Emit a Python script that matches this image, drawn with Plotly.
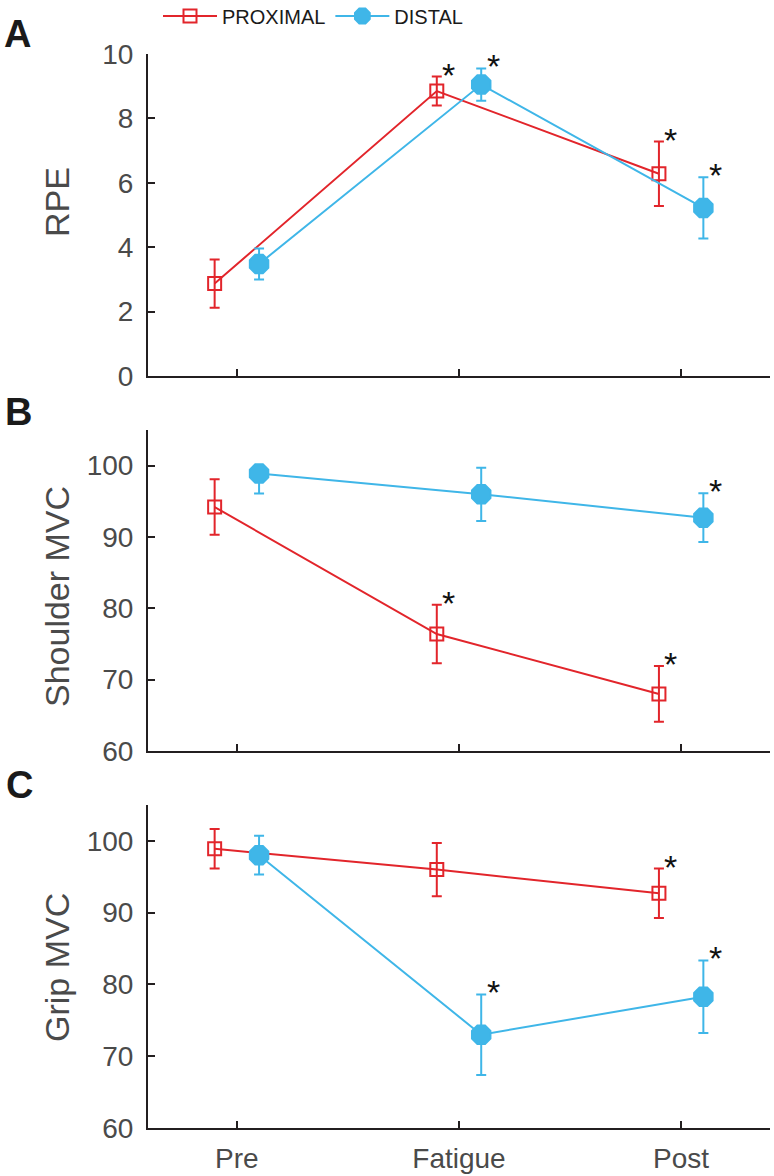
import plotly.graph_objects as go

W, H = 774, 1176
ML, MR, MT, MB = 148, 4, 54, 48
PW, PH = W - ML - MR, H - MT - MB

RED = "#e2252b"
BLUE = "#3fb6e8"
AXIS = "#231f20"
GREY = "#4a4a4a"
FONT = "Liberation Sans, Arial, sans-serif"

categories = ["Pre", "Fatigue", "Post"]
cat_pos = [1, 2, 3]

# panel A - RPE
rpe_prox = [2.87, 8.85, 6.28]
rpe_prox_err = [0.75, 0.45, 1.0]
rpe_prox_sig = [False, True, True]
rpe_dist = [3.48, 9.05, 5.22]
rpe_dist_err = [0.48, 0.5, 0.95]
rpe_dist_sig = [False, True, True]

# panel B - shoulder MVC
shoulder_prox = [94.2, 76.4, 68.0]
shoulder_prox_err = [3.9, 4.1, 3.9]
shoulder_prox_sig = [False, True, True]
shoulder_dist = [98.9, 96.0, 92.7]
shoulder_dist_err_up = [0.0, 3.7, 3.45]
shoulder_dist_err_down = [2.8, 3.75, 3.4]
shoulder_dist_sig = [False, False, True]

# panel C - grip MVC
grip_prox = [98.9, 96.0, 92.7]
grip_prox_err = [2.75, 3.7, 3.45]
grip_prox_sig = [False, False, True]
grip_dist = [98.0, 73.0, 78.3]
grip_dist_err = [2.7, 5.6, 5.05]
grip_dist_sig = [False, True, True]


def px_x(p):
    return (p - ML) / PW


def px_y(p):
    return 1 - (p - MT) / PH


fig = go.Figure()
annotations = []


def add_series(vals, err_up, err_down, sig, color, symbol, size, name, ax, offset, legend):
    xs = [c + offset for c in cat_pos]
    fig.add_trace(go.Scatter(
        x=xs, y=vals, name=name, mode="lines+markers",
        xaxis="x" + ax, yaxis="y" + ax, showlegend=legend, legendgroup=name,
        line=dict(color=color, width=2),
        marker=dict(symbol=symbol, size=size, color=color, line=dict(color=color, width=2)),
        error_y=dict(type="data", array=err_up, arrayminus=err_down, symmetric=False,
                     color=color, thickness=2, width=5),
    ))
    for i, s in enumerate(sig):
        if s:
            annotations.append(dict(
                x=xs[i], y=vals[i] + err_up[i], xref="x" + ax, yref="y" + ax,
                text="*", showarrow=False, xshift=12, yshift=2,
                font=dict(size=34, color="#111111", family=FONT),
            ))


add_series(rpe_prox, rpe_prox_err, rpe_prox_err, rpe_prox_sig, RED, "square-open", 13, "PROXIMAL", "", -0.1, True)
add_series(rpe_dist, rpe_dist_err, rpe_dist_err, rpe_dist_sig, BLUE, "octagon", 20, "DISTAL", "", 0.1, True)
add_series(shoulder_prox, shoulder_prox_err, shoulder_prox_err, shoulder_prox_sig, RED, "square-open", 13, "PROXIMAL", "2", -0.1, False)
add_series(shoulder_dist, shoulder_dist_err_up, shoulder_dist_err_down, shoulder_dist_sig, BLUE, "octagon", 20, "DISTAL", "2", 0.1, False)
add_series(grip_prox, grip_prox_err, grip_prox_err, grip_prox_sig, RED, "square-open", 13, "PROXIMAL", "3", -0.1, False)
add_series(grip_dist, grip_dist_err, grip_dist_err, grip_dist_sig, BLUE, "octagon", 20, "DISTAL", "3", 0.1, False)

xaxis_style = dict(range=[0.6, 3.4], tickvals=cat_pos, ticktext=categories,
                   ticks="inside", ticklen=7, tickwidth=2, tickcolor=AXIS,
                   showline=True, linecolor=AXIS, linewidth=2, showgrid=False, zeroline=False,
                   tickfont=dict(size=28, color=GREY, family=FONT), ticklabelstandoff=4)
yaxis_style = dict(ticks="inside", ticklen=7, tickwidth=2, tickcolor=AXIS,
                   showline=True, linecolor=AXIS, linewidth=2, showgrid=False, zeroline=False,
                   tickfont=dict(size=28, color=GREY, family=FONT), ticklabelstandoff=7)

fig.update_layout(
    xaxis=dict(xaxis_style, anchor="y", showticklabels=False),
    xaxis2=dict(xaxis_style, anchor="y2", showticklabels=False),
    xaxis3=dict(xaxis_style, anchor="y3"),
    yaxis=dict(yaxis_style, domain=[px_y(376), 1], range=[0, 10], dtick=2, anchor="x"),
    yaxis2=dict(yaxis_style, domain=[px_y(751), px_y(430)], range=[60, 105], tickvals=[60, 70, 80, 90, 100], anchor="x2"),
    yaxis3=dict(yaxis_style, domain=[0, px_y(805)], range=[60, 105], tickvals=[60, 70, 80, 90, 100], anchor="x3"),
)

# axis titles
for txt, yc in [("RPE", 202), ("Shoulder MVC", 597), ("Grip MVC", 968)]:
    annotations.append(dict(x=px_x(57), y=px_y(yc), xref="paper", yref="paper", text=txt,
                            textangle=-90, showarrow=False, xanchor="center", yanchor="middle",
                            font=dict(size=34, color=GREY, family=FONT)))

# panel letters
for txt, xc, yc in [("A", 17, 34), ("B", 18, 412), ("C", 19, 785)]:
    annotations.append(dict(x=px_x(xc), y=px_y(yc), xref="paper", yref="paper", text="<b>%s</b>" % txt,
                            showarrow=False, xanchor="center", yanchor="middle",
                            font=dict(size=38, color="#1a1a1a", family=FONT)))

fig.update_layout(
    width=W, height=H,
    margin=dict(l=ML, r=MR, t=MT, b=MB, autoexpand=False),
    paper_bgcolor="white", plot_bgcolor="white",
    annotations=annotations,
    legend=dict(orientation="h", x=px_x(158), y=px_y(16), xanchor="left", yanchor="middle",
                font=dict(size=20, color="#1a1a1a", family=FONT),
                itemwidth=54, bgcolor="rgba(0,0,0,0)"),
)

# page body has a default 8px margin, drop it so the figure sits at the corner
fig.write_html("out.html", config={"displayModeBar": False},
               post_script="document.body.style.margin='0';")
